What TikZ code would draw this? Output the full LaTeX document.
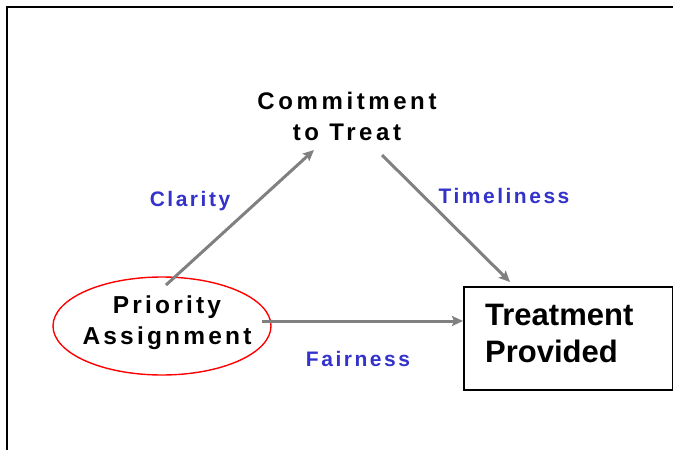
\documentclass[tikz,border=0pt]{standalone}
\usepackage{fontspec}
\setmainfont{Liberation Sans}
\newfontfamily\widefont[LetterSpace=15]{Liberation Sans}
\newfontfamily\midfont[LetterSpace=12]{Liberation Sans}
\newfontfamily\ovalfont[LetterSpace=13]{Liberation Sans}
\usepackage{xcolor}
\usetikzlibrary{positioning,arrows.meta,calc,shapes.geometric}

\definecolor{linkgray}{RGB}{128,128,128}
\definecolor{labelblue}{RGB}{51,51,204}

\begin{document}
\begin{tikzpicture}[
    x=1pt, y=-1pt,
    concept/.style={align=center, font=\widefont\bfseries\fontsize{24}{31}\selectfont, inner sep=0pt},
    outcome/.style={rectangle, draw=black, line width=2pt, minimum width=209pt, minimum height=103pt, inner sep=0pt},
    arrow/.style={-{Stealth[length=11pt, width=10pt, inset=2pt]}, draw=linkgray, fill=linkgray, line width=3pt},
    tag/.style={font=\midfont\bfseries\fontsize{21}{24}\selectfont, text=labelblue, inner sep=0pt}
]
\useasboundingbox (0,0) rectangle (673,450);

% Frame
\draw[line width=2pt] (7,450) -- (7,7) -- (675,7);

% Concepts
\node[concept] (commit) at (347,116) {Commitment\\to Treat};
\node[ellipse, draw=red, line width=1.4pt, minimum width=218pt, minimum height=98pt, inner sep=0pt] (prio) at (162,326) {};
\node[concept, font=\ovalfont\bfseries\fontsize{24.5}{31}\selectfont] (priolabel) at (167,323) {Priority\\Assignment};
\node[outcome, anchor=north west] (treat) at (463,286) {};
\node[align=left, anchor=west, font=\bfseries\fontsize{31}{37}\selectfont, inner sep=0pt] (treatlabel) at (485,333) {Treatment\\Provided};

% Arrow ends
\coordinate (c_in) at (314,150);
\coordinate (c_out) at (382,155);
\coordinate (p_out) at (166,285);
\coordinate (p_right) at (262,321);

% Links
\draw[arrow] (p_out) -- (c_in);
\draw[arrow] (c_out) -- ($(treat.north west)+(47,-4)$);
\draw[arrow] (p_right) -- (p_right -| treat.west);

% Labels
\node[tag] (clarity) at (190,201) {Clarity};
\node[tag] (timely) at (504,196) {Timeliness};
\node[tag] (fair) at (358,359) {Fairness};

\end{tikzpicture}
\end{document}
